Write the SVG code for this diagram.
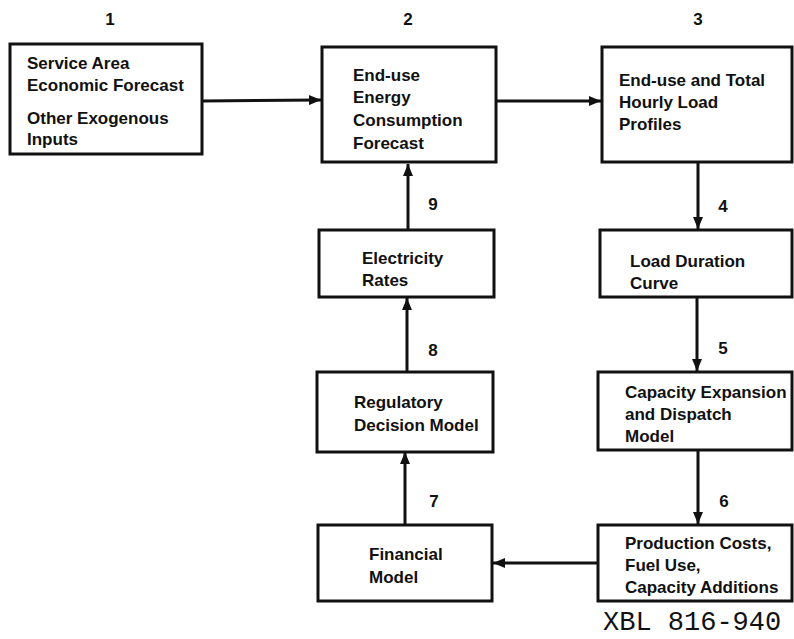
<svg xmlns="http://www.w3.org/2000/svg" width="794" height="639" viewBox="0 0 794 639">
<style>
.box{fill:#fff;stroke:#111;stroke-width:3}
.t{font-family:"Liberation Sans",Arial,sans-serif;font-weight:bold;font-size:17px;fill:#111}
.n{font-family:"Liberation Sans",Arial,sans-serif;font-weight:bold;font-size:17px;fill:#111;text-anchor:middle}
.c{stroke:#111;stroke-width:3;fill:none}
.xbl{font-family:"Liberation Mono","Courier New",monospace;font-size:27px;fill:#111}
</style>
<defs>
<marker id="ah" viewBox="0 0 12 10" refX="12" refY="5" markerWidth="12" markerHeight="10" markerUnits="userSpaceOnUse" orient="auto">
<path d="M0,0 L12,5 L0,10 z" fill="#111"/>
</marker>
</defs>
<rect width="794" height="639" fill="#fff"/>
<g id="connectors">
<line class="c" x1="202" y1="101" x2="321" y2="100" marker-end="url(#ah)"/>
<line class="c" x1="496" y1="101" x2="601" y2="101" marker-end="url(#ah)"/>
<line class="c" x1="698" y1="162" x2="698" y2="229" marker-end="url(#ah)"/>
<line class="c" x1="697" y1="297" x2="697" y2="371" marker-end="url(#ah)"/>
<line class="c" x1="698" y1="450" x2="698" y2="524" marker-end="url(#ah)"/>
<line class="c" x1="598" y1="563" x2="493" y2="563" marker-end="url(#ah)"/>
<line class="c" x1="405" y1="525" x2="405" y2="452" marker-end="url(#ah)"/>
<line class="c" x1="407" y1="372" x2="407" y2="298" marker-end="url(#ah)"/>
<line class="c" x1="408" y1="230" x2="408" y2="164" marker-end="url(#ah)"/>
</g>
<g id="labels">
<text class="n" x="110" y="25">1</text>
<text class="n" x="408" y="25">2</text>
<text class="n" x="698" y="25">3</text>
<text class="n" x="723" y="212">4</text>
<text class="n" x="723" y="354">5</text>
<text class="n" x="724" y="507">6</text>
<text class="n" x="434" y="507">7</text>
<text class="n" x="433" y="356">8</text>
<text class="n" x="433" y="210">9</text>
</g>
<g id="node1">
<rect class="box" x="10" y="44" width="192" height="110"/>
<text class="t" x="27" y="69">Service Area</text>
<text class="t" x="27" y="91">Economic Forecast</text>
<text class="t" x="27" y="124">Other Exogenous</text>
<text class="t" x="27" y="145">Inputs</text>
</g>
<g id="node2">
<rect class="box" x="322" y="47" width="174" height="115"/>
<text class="t" x="353" y="81">End-use</text>
<text class="t" x="353" y="103">Energy</text>
<text class="t" x="353" y="126">Consumption</text>
<text class="t" x="353" y="149">Forecast</text>
</g>
<g id="node3">
<rect class="box" x="602" y="47" width="190" height="115"/>
<text class="t" x="619" y="86">End-use and Total</text>
<text class="t" x="619" y="108">Hourly Load</text>
<text class="t" x="619" y="130">Profiles</text>
</g>
<g id="node4">
<rect class="box" x="600" y="230" width="192" height="67"/>
<text class="t" x="630" y="267">Load Duration</text>
<text class="t" x="630" y="289">Curve</text>
</g>
<g id="node5">
<rect class="box" x="598" y="372" width="194" height="78"/>
<text class="t" x="625" y="398">Capacity Expansion</text>
<text class="t" x="625" y="420">and Dispatch</text>
<text class="t" x="625" y="442">Model</text>
</g>
<g id="node6">
<rect class="box" x="598" y="525" width="194" height="76"/>
<text class="t" x="625" y="549">Production Costs,</text>
<text class="t" x="625" y="571">Fuel Use,</text>
<text class="t" x="625" y="593">Capacity Additions</text>
</g>
<g id="node7">
<rect class="box" x="318" y="525" width="174" height="76"/>
<text class="t" x="369" y="560">Financial</text>
<text class="t" x="369" y="583">Model</text>
</g>
<g id="node8">
<rect class="box" x="317" y="372" width="176" height="80"/>
<text class="t" x="354" y="408">Regulatory</text>
<text class="t" x="354" y="431">Decision Model</text>
</g>
<g id="node9">
<rect class="box" x="319" y="230" width="175" height="67"/>
<text class="t" x="362" y="264">Electricity</text>
<text class="t" x="362" y="286">Rates</text>
</g>
<text class="xbl" x="603" y="630">XBL 816-940</text>
</svg>
